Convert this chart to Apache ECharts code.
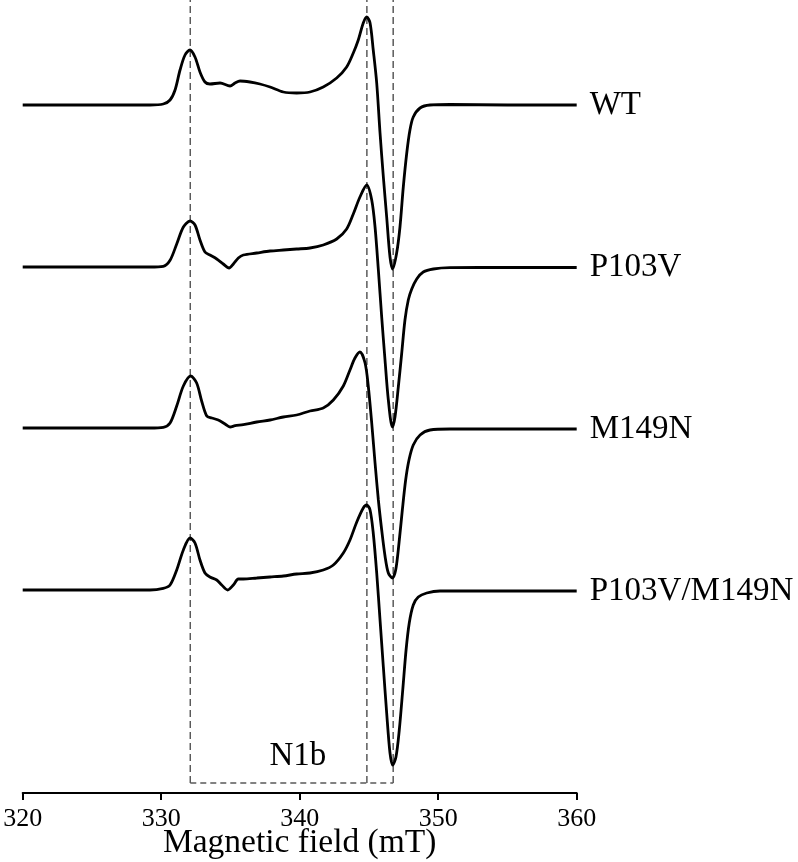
<!DOCTYPE html>
<html>
<head>
<meta charset="utf-8">
<script src="https://cdn.jsdelivr.net/npm/echarts@6/dist/echarts.min.js"></script>
<style>html,body{margin:0;padding:0;background:#fff}#main{width:798px;height:862px}</style>
</head>
<body>
<div id="main"></div>
<script>
// spectra: [field (mT), signal (a.u.)]
var wtTrace = [[320,0],[325,0],[329.2,0],[330.15,1],[330.64,5],[331.0,15],[331.36,35],[331.72,50],[332.08,55],[332.44,48],[332.8,33],[333.16,23],[333.52,21],[334.25,22],[334.97,19],[335.33,22],[335.69,24],[336.41,23],[337.13,21],[337.86,18],[338.82,13],[339.78,12],[340.74,13],[341.7,18],[342.67,27],[343.39,38],[343.87,52],[344.23,65],[344.59,82],[344.84,88],[345.08,82],[345.31,55],[345.56,22],[345.8,-28],[346.04,-72],[346.28,-112],[346.52,-152],[346.71,-164],[347.0,-148],[347.24,-122],[347.48,-82],[347.73,-48],[347.96,-25],[348.2,-12],[348.69,-3],[349.41,0],[350.85,0.5],[355,0],[360,0]];
var p103vTrace = [[320,0],[325,0],[329.19,0],[330.15,0.7],[330.64,6.7],[331.12,23],[331.6,40],[332.08,46],[332.44,42],[332.8,27],[333.16,15],[333.52,12],[334.01,8],[334.48,3],[334.9,-1],[335.21,3],[335.57,9],[335.93,12],[336.9,14],[337.86,16],[338.82,17],[339.78,18],[340.74,19],[341.7,22],[342.67,28],[343.39,38],[343.87,53],[344.35,70],[344.84,82],[345.2,67],[345.44,40],[345.68,-3],[345.92,-50],[346.16,-93],[346.4,-133],[346.69,-160],[346.88,-150],[347.12,-120],[347.36,-87],[347.6,-53],[347.84,-33],[348.09,-22],[348.45,-12],[348.92,-5],[349.65,-2],[350.85,-0.7],[355,-0.5],[360,-0.5]];
var m149nTrace = [[320,0],[325,0],[329.19,0],[330.15,0.7],[330.64,5],[331.12,22],[331.6,42],[332.13,52],[332.56,45],[332.92,27],[333.29,12],[333.65,10],[334.12,8],[334.61,4],[334.97,1],[335.33,2.3],[335.93,3.3],[336.9,6],[337.86,8],[338.82,11],[339.78,13],[340.74,17],[341.7,20],[342.43,28],[343.15,42],[343.63,58],[343.99,70],[344.35,76],[344.72,65],[344.95,42],[345.2,5],[345.44,-35],[345.68,-72],[345.92,-102],[346.16,-128],[346.4,-145],[346.69,-150],[346.93,-142],[347.17,-115],[347.41,-82],[347.65,-52],[347.89,-32],[348.2,-17],[348.69,-7],[349.41,-2],[350.85,-1],[355,-1],[360,-1]];
var doubleTrace = [[320,0],[325,0],[329.19,0],[330.15,1.7],[330.64,5],[331.12,20],[331.6,40],[332.08,52],[332.44,47],[332.8,30],[333.16,17],[333.52,13],[334.01,10],[334.37,5],[334.8,0],[335.21,5],[335.57,11],[335.93,11],[336.9,12],[337.86,13],[338.82,14],[339.78,16],[340.74,17],[341.7,20],[342.43,25],[343.15,37],[343.63,50],[344.12,68],[344.59,82],[344.84,85],[345.08,80],[345.31,57],[345.56,17],[345.8,-30],[346.04,-77],[346.28,-123],[346.52,-163],[346.71,-175],[346.95,-167],[347.19,-140],[347.44,-100],[347.68,-60],[347.91,-33],[348.2,-15],[348.56,-7],[349.17,-3],[350.13,-1],[355,-1],[360,-1]];

var names = ['WT', 'P103V', 'M149N', 'P103V/M149N'];
var offsets = [688, 526, 365, 203];   // vertical stacking of the spectra
var traces = [wtTrace, p103vTrace, m149nTrace, doubleTrace];

// N1b guide lines
var guideFields = [332.1, 344.85, 346.75];
var guideBottom = 10;
var guideTop = 793;
var n1bLabel = [339.9, 36];

var font = 'Liberation Serif, Times New Roman, serif';
var myChart = echarts.init(document.getElementById('main'));

var series = [];
var dash = {color: '#5a5a5a', width: 1.5, type: [7, 4]};
guideFields.forEach(function (f) {
    series.push({type: 'line', data: [[f, guideBottom], [f, guideTop]], symbol: 'none',
        lineStyle: dash, silent: true, z: 1});
});
series.push({type: 'line', data: [[guideFields[0], guideBottom], [guideFields[2], guideBottom]],
    symbol: 'none', lineStyle: {color: '#5a5a5a', width: 1.5, type: [6, 4]}, silent: true, z: 1});

traces.forEach(function (t, i) {
    series.push({
        name: names[i],
        type: 'line',
        smooth: 0.3,
        symbol: 'none',
        z: 3,
        lineStyle: {color: '#000', width: 2.8},
        data: t.map(function (p) { return [p[0], p[1] + offsets[i]]; }),
        endLabel: {
            show: true, formatter: names[i], color: '#000',
            fontSize: 33, fontFamily: font, distance: 13
        }
    });
});

series.push({
    type: 'scatter', data: [n1bLabel], symbolSize: 1, silent: true,
    itemStyle: {color: 'rgba(0,0,0,0)', opacity: 1},
    label: {show: true, position: [0, 0], align: 'center', verticalAlign: 'middle',
        formatter: 'N1b', color: '#000', fontSize: 33, fontFamily: font}
});

myChart.setOption({
    animation: false,
    backgroundColor: '#fff',
    grid: {left: 22.7, right: 221.3, top: 0, bottom: 69, containLabel: false, outerBoundsMode: 'none'},
    xAxis: {
        type: 'value', min: 320, max: 360, interval: 10,
        name: 'Magnetic field (mT)', nameLocation: 'middle', nameGap: 33,
        nameMoveOverlap: false,
        nameTextStyle: {color: '#000', fontSize: 33.5, fontFamily: font},
        axisLine: {lineStyle: {color: '#000', width: 2}},
        axisTick: {inside: false, length: 7, lineStyle: {color: '#000', width: 2}},
        axisLabel: {color: '#000', fontSize: 26, fontFamily: font, margin: 13},
        splitLine: {show: false}
    },
    yAxis: {type: 'value', min: 0, max: 793, show: false, splitLine: {show: false}},
    series: series
});
</script>
</body>
</html>
